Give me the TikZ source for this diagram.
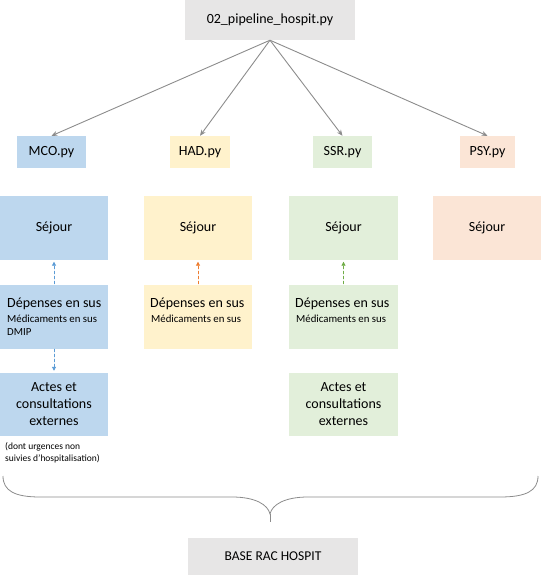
\documentclass[tikz,border=0pt]{standalone}
\usepackage{fontspec}
\setmainfont{Carlito}
\usetikzlibrary{arrows.meta}
\definecolor{cblue}{HTML}{BDD7EE}
\definecolor{cyellow}{HTML}{FFF2CC}
\definecolor{cgreen}{HTML}{E2EFDA}
\definecolor{cpeach}{HTML}{FBE5D6}
\definecolor{cgray}{HTML}{E7E6E6}
\definecolor{dblue}{HTML}{5B9BD5}
\definecolor{dorange}{HTML}{ED7D31}
\definecolor{dgreen}{HTML}{70AD47}
\definecolor{fangray}{HTML}{8C8C8C}
\begin{document}
\begin{tikzpicture}[x=1pt,y=-1pt,
  box/.style={draw=none, inner sep=0pt, align=center, font=\fontsize{14}{17}\selectfont},
  pybox/.style={box, minimum height=32pt},
  bigbox/.style={box, minimum width=108pt, minimum height=64pt},
  fanarrow/.style={draw=fangray, line width=0.9pt, -{Stealth[length=6pt,width=5pt]}},
  dasharrow/.style={line width=0.9pt, dash pattern=on 3pt off 2pt, -{Triangle[length=4pt,width=4pt]}, shorten >=2pt},
  bracestyle/.style={draw=fangray, line width=0.8pt},
  bigline/.style={anchor=base west, inner sep=0pt, font=\fontsize{14}{17}\selectfont},
  smallline/.style={anchor=base west, inner sep=0pt, font=\fontsize{10.8}{13}\selectfont},
  noteline/.style={anchor=base west, inner sep=0pt, font=\fontsize{9.5}{11}\selectfont}
]
\useasboundingbox (0,0) rectangle (547,575);

% top
\node[box, fill=cgray, minimum width=170pt, minimum height=40pt] (top) at (270,20) {02\_pipeline\_hospit.py};

% py boxes
\node[pybox, fill=cblue, minimum width=69pt] (mco) at (51.5,152) {MCO.py};
\node[pybox, fill=cyellow, minimum width=60pt] (had) at (200,152) {HAD.py};
\node[pybox, fill=cgreen, minimum width=59pt] (ssr) at (342.5,152) {SSR.py};
\node[pybox, fill=cpeach, minimum width=55pt] (psy) at (487.5,152) {PSY.py};

\foreach \n in {mco,had,ssr,psy} \draw[fanarrow] (top.south) -- (\n.north);

% sejour
\node[bigbox, fill=cblue] (sejMCO) at (54,227.5) {Séjour};
\node[bigbox, fill=cyellow] (sejHAD) at (198,227.5) {Séjour};
\node[bigbox, fill=cgreen, minimum width=109pt] (sejSSR) at (343.5,227.5) {Séjour};
\node[bigbox, fill=cpeach] (sejPSY) at (487,227.5) {Séjour};

% depenses
\node[bigbox, fill=cblue] (depMCO) at (54,316.5) {};
\node[bigbox, fill=cyellow] (depHAD) at (198,316.5) {};
\node[bigbox, fill=cgreen, minimum width=109pt] (depSSR) at (343.5,316.5) {};

\node[bigline] (depMCOa) at (7,307) {Dépenses en sus};
\node[smallline] (depMCOb) at (7,322) {Médicaments en sus};
\node[smallline] (depMCOc) at (7,335.5) {DMIP};
\node[bigline] (depHADa) at (150,307) {Dépenses en sus};
\node[smallline] (depHADb) at (151,322) {Médicaments en sus};
\node[bigline] (depSSRa) at (295,307) {Dépenses en sus};
\node[smallline] (depSSRb) at (296,322) {Médicaments en sus};

% actes
\node[bigbox, fill=cblue, minimum height=63pt] (actMCO) at (54,404.5) {Actes et\\consultations\\externes};
\node[bigbox, fill=cgreen, minimum width=109pt, minimum height=63pt] (actSSR) at (343.5,404.5) {Actes et\\consultations\\externes};

\node[noteline] (notea) at (5,449) {(dont urgences non};
\node[noteline] (noteb) at (5,461) {suivies d’hospitalisation)};

% dashed arrows
\draw[dasharrow, draw=dblue, fill=dblue] (depMCO.north) -- (sejMCO.south);
\draw[dasharrow, draw=dblue, fill=dblue] (depMCO.south) -- (actMCO.north);
\draw[dasharrow, draw=dorange, fill=dorange] (depHAD.north) -- (sejHAD.south);
\draw[dasharrow, draw=dgreen, fill=dgreen] (depSSR.north) -- (sejSSR.south);

% brace
\coordinate (bl) at (3,476);
\coordinate (br) at (538,476);
\coordinate (bt) at (270,514);
\coordinate (bs) at (270,522);
\draw[bracestyle] (bl) .. controls (3,491) and (15,497) .. (40,497) -- (232,497)
  .. controls (256,497) and (268,505) .. (bt)
  .. controls (272,505) and (284,497) .. (308,497) -- (500,497)
  .. controls (526,497) and (538,491) .. (br);
\draw[bracestyle] (bt) -- (bs);

% base
\node[box, fill=cgray, minimum width=170pt, minimum height=38pt, font=\fontsize{13.5}{16}\selectfont] (base) at (273,556.5) {BASE RAC HOSPIT};
\end{tikzpicture}
\end{document}
